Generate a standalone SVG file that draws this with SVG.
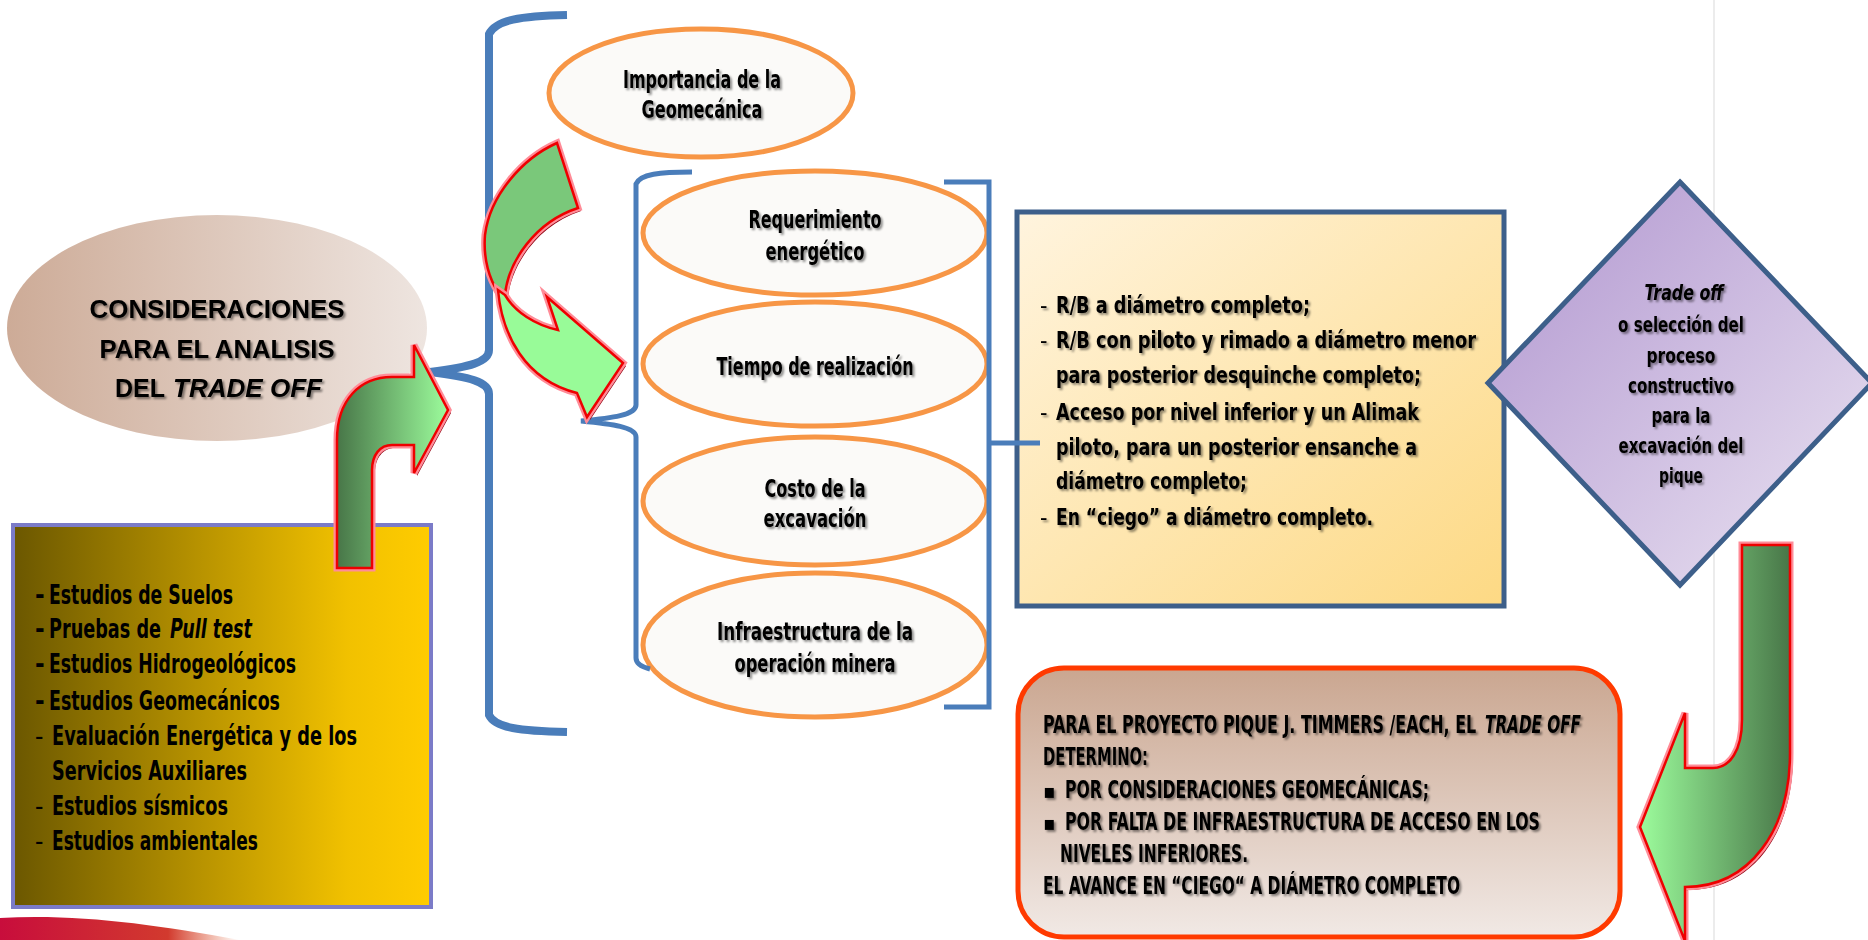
<svg xmlns="http://www.w3.org/2000/svg" width="1868" height="940" viewBox="0 0 1868 940">
<defs>
<style>
.cond{font-family:'DejaVu Sans Condensed','DejaVu Sans','Liberation Sans',sans-serif;font-stretch:condensed;font-weight:bold;fill:#000;}
.main{font-family:'Liberation Sans','Open Sans',sans-serif;font-weight:bold;font-size:26px;fill:#000;}
.ell{fill:#fbfaf8;stroke:#f79646;stroke-width:5;}
.br{fill:none;stroke:#4a7dba;}
.arr{stroke:#ee0000;stroke-width:2.5;stroke-linejoin:miter;}
.glow{fill:none;stroke:#ff8c98;stroke-width:7;stroke-linejoin:miter;}
.sh{fill:#8e0010;}
.sh-txt{filter:url(#ts);}
</style>
<linearGradient id="gMain" x1="0" y1="0" x2="1" y2="0"><stop offset="0" stop-color="#cdab97"/><stop offset="1" stop-color="#eee5e0"/></linearGradient>
<linearGradient id="gLeft" x1="0" y1="0" x2="1" y2="0"><stop offset="0" stop-color="#6b5700"/><stop offset="0.45" stop-color="#b89300"/><stop offset="0.8" stop-color="#f1c100"/><stop offset="1" stop-color="#ffcc00"/></linearGradient>
<linearGradient id="gBox" x1="0" y1="0" x2="1" y2="1"><stop offset="0" stop-color="#fff4de"/><stop offset="1" stop-color="#fdd984"/></linearGradient>
<linearGradient id="gDia" x1="0" y1="0" x2="1" y2="1"><stop offset="0" stop-color="#b095cf"/><stop offset="1" stop-color="#ebe4f2"/></linearGradient>
<linearGradient id="gRes" x1="0" y1="0" x2="0" y2="1"><stop offset="0" stop-color="#caa690"/><stop offset="1" stop-color="#f1e9e5"/></linearGradient>
<linearGradient id="gA1" gradientUnits="userSpaceOnUse" x1="337" y1="0" x2="448" y2="0"><stop offset="0" stop-color="#487648"/><stop offset="1" stop-color="#9cfc9c"/></linearGradient>
<linearGradient id="gA3" gradientUnits="userSpaceOnUse" x1="1640" y1="0" x2="1790" y2="0"><stop offset="0" stop-color="#9cfc9c"/><stop offset="1" stop-color="#487648"/></linearGradient>
<linearGradient id="gSw" x1="0" y1="0" x2="1" y2="0"><stop offset="0" stop-color="#c80d3c"/><stop offset="0.7" stop-color="#d23a2e"/><stop offset="1" stop-color="#e05a2a" stop-opacity="0"/></linearGradient>
<filter id="ts" x="-5%" y="-20%" width="110%" height="160%"><feDropShadow dx="2" dy="2" stdDeviation="1.2" flood-color="#000" flood-opacity="0.45"/></filter>
<path id="pA1" d="M337,568 L337,440 C337,400 360,377 392,377 L414,377 L414,345 L448,410 L414,473 L414,445 L392,445 C380,445 372,455 372,470 L372,568 Z"/>
<path id="pA2u" d="M557,143 C523,158 490,195 485,235 C483,260 490,280 498,292 L505,295 C508,262 535,222 578,208 Z"/>
<path id="pA2l" d="M498,290 C502,335 525,380 577,393 L587,417 L623,363 L547,297 L558,330 C535,325 515,312 505,295 Z"/>
<path id="pA3" d="M1742,545 L1790,545 L1790,753 C1790,830 1750,887 1685,887 L1685,941 L1640,827 L1685,713 L1685,768 L1713,768 C1730,768 1742,750 1742,720 Z"/>
</defs>
<rect x="0" y="0" width="1868" height="940" fill="#ffffff"/>
<line x1="1714" y1="0" x2="1714" y2="940" stroke="#e6e6e6" stroke-width="1.5"/>
<path d="M0,918 C80,914 150,924 240,940 L0,940 Z" fill="url(#gSw)"/>

<g id="node-consideraciones">
<ellipse cx="217" cy="328" rx="210" ry="113" fill="url(#gMain)"/>
<g class="sh-txt">
<text class="main" x="217" y="318" text-anchor="middle" textLength="255" lengthAdjust="spacingAndGlyphs">CONSIDERACIONES</text>
<text class="main" x="217" y="358" text-anchor="middle" textLength="235" lengthAdjust="spacingAndGlyphs">PARA EL ANALISIS</text>
<text class="main" x="115" y="397" textLength="50" lengthAdjust="spacingAndGlyphs">DEL</text>
<text class="main" x="173" y="397" font-style="italic" textLength="149" lengthAdjust="spacingAndGlyphs">TRADE OFF</text>
</g>
</g>

<g id="node-estudios">
<rect x="13" y="525" width="418" height="382" fill="url(#gLeft)" stroke="#7b7bc8" stroke-width="4"/>
<g class="cond" font-size="26">
<text x="35" y="604">-</text><text x="49" y="604" textLength="184" lengthAdjust="spacingAndGlyphs">Estudios de Suelos</text>
<text x="35" y="638">-</text><text transform="translate(49,638) scale(0.7,1)" x="0" y="0" textLength="160" lengthAdjust="spacingAndGlyphs">Pruebas de</text><text transform="translate(170,638) scale(0.7,1)" x="0" y="0" font-style="italic" textLength="117" lengthAdjust="spacingAndGlyphs">Pull test</text>
<text x="35" y="673">-</text><text x="49" y="673" textLength="247" lengthAdjust="spacingAndGlyphs">Estudios Hidrogeológicos</text>
<text x="35" y="710">-</text><text x="49" y="710" textLength="231" lengthAdjust="spacingAndGlyphs">Estudios Geomecánicos</text>
<text x="35" y="745" font-weight="normal">-</text><text x="52" y="745" textLength="305" lengthAdjust="spacingAndGlyphs">Evaluación Energética y  de los</text>
<text x="52" y="780" textLength="195" lengthAdjust="spacingAndGlyphs">Servicios Auxiliares</text>
<text x="35" y="815" font-weight="normal">-</text><text x="52" y="815" textLength="176" lengthAdjust="spacingAndGlyphs">Estudios sísmicos</text>
<text x="35" y="850" font-weight="normal">-</text><text x="52" y="850" textLength="206" lengthAdjust="spacingAndGlyphs">Estudios ambientales</text>
</g>
</g>

<g id="node-geomecanica">
<ellipse class="ell" cx="701" cy="93" rx="152" ry="64"/>
<g class="cond sh-txt" font-size="25" text-anchor="middle">
<text x="702" y="88" textLength="158" lengthAdjust="spacingAndGlyphs">Importancia de la</text>
<text x="702" y="118" textLength="121" lengthAdjust="spacingAndGlyphs">Geomecánica</text>
</g>
</g>

<g id="node-requerimiento">
<ellipse class="ell" cx="815" cy="233" rx="172" ry="62"/>
<g class="cond sh-txt" font-size="25" text-anchor="middle">
<text x="815" y="228" textLength="133" lengthAdjust="spacingAndGlyphs">Requerimiento</text>
<text x="815" y="260" textLength="99" lengthAdjust="spacingAndGlyphs">energético</text>
</g>
</g>

<g id="node-tiempo">
<ellipse class="ell" cx="815" cy="364" rx="172" ry="62"/>
<g class="cond sh-txt" font-size="25" text-anchor="middle">
<text x="815" y="375" textLength="197" lengthAdjust="spacingAndGlyphs">Tiempo de realización</text>
</g>
</g>

<g id="node-costo">
<ellipse class="ell" cx="815" cy="501" rx="172" ry="64"/>
<g class="cond sh-txt" font-size="25" text-anchor="middle">
<text x="815" y="497" textLength="101" lengthAdjust="spacingAndGlyphs">Costo de la</text>
<text x="815" y="527" textLength="103" lengthAdjust="spacingAndGlyphs">excavación</text>
</g>
</g>

<g id="node-infraestructura">
<ellipse class="ell" cx="815" cy="645" rx="172" ry="72"/>
<g class="cond sh-txt" font-size="25" text-anchor="middle">
<text x="815" y="640" textLength="196" lengthAdjust="spacingAndGlyphs">Infraestructura  de la</text>
<text x="815" y="672" textLength="161" lengthAdjust="spacingAndGlyphs">operación minera</text>
</g>
</g>

<g id="node-alternativas">
<rect x="1017" y="212" width="487" height="394" fill="url(#gBox)" stroke="#3d5f8a" stroke-width="5"/>
<g class="cond sh-txt" font-size="23">
<text x="1040" y="313" font-weight="normal">-</text><text x="1056" y="313" textLength="254" lengthAdjust="spacingAndGlyphs">R/B a diámetro completo;</text>
<text x="1040" y="348" font-weight="normal">-</text><text x="1056" y="348" textLength="420" lengthAdjust="spacingAndGlyphs">R/B con piloto y rimado a diámetro menor</text>
<text x="1056" y="383" textLength="365" lengthAdjust="spacingAndGlyphs">para posterior desquinche completo;</text>
<text x="1040" y="420" font-weight="normal">-</text><text x="1056" y="420" textLength="363" lengthAdjust="spacingAndGlyphs">Acceso por nivel inferior y un Alimak</text>
<text x="1056" y="455" textLength="361" lengthAdjust="spacingAndGlyphs">piloto, para un posterior ensanche a</text>
<text x="1056" y="489" textLength="191" lengthAdjust="spacingAndGlyphs">diámetro completo;</text>
<text x="1040" y="525" font-weight="normal">-</text><text x="1056" y="525" textLength="317" lengthAdjust="spacingAndGlyphs">En “ciego” a diámetro completo.</text>
</g>
</g>

<g id="node-tradeoff">
<polygon points="1680,182 1872,383 1680,585 1488,383" fill="url(#gDia)" stroke="#3d5f8a" stroke-width="5" stroke-linejoin="miter"/>
<g class="cond sh-txt" font-size="21" text-anchor="middle">
<text x="1684" y="300" font-style="italic" textLength="79" lengthAdjust="spacingAndGlyphs">Trade off</text>
<text x="1681" y="332" textLength="126" lengthAdjust="spacingAndGlyphs">o selección del</text>
<text x="1681" y="363" textLength="69" lengthAdjust="spacingAndGlyphs">proceso</text>
<text x="1681" y="393" textLength="106" lengthAdjust="spacingAndGlyphs">constructivo</text>
<text x="1681" y="423" textLength="59" lengthAdjust="spacingAndGlyphs">para la</text>
<text x="1681" y="453" textLength="125" lengthAdjust="spacingAndGlyphs">excavación del</text>
<text x="1681" y="483" textLength="44" lengthAdjust="spacingAndGlyphs">pique</text>
</g>
</g>

<g id="node-resultado">
<rect x="1018" y="668" width="602" height="269" rx="46" ry="46" fill="url(#gRes)" stroke="#ff3a00" stroke-width="5"/>
<g class="cond sh-txt" font-size="24">
<text transform="translate(1043,733) scale(0.6,1)" x="0" y="0" textLength="722" lengthAdjust="spacingAndGlyphs">PARA EL PROYECTO PIQUE J. TIMMERS /EACH, EL</text><text transform="translate(1485,733) scale(0.6,1)" x="0" y="0" font-style="italic" textLength="160" lengthAdjust="spacingAndGlyphs">TRADE OFF</text>
<text x="1043" y="765" textLength="105" lengthAdjust="spacingAndGlyphs">DETERMINO:</text>
<text x="1043" y="798" font-size="20">▪</text><text x="1065" y="798" textLength="364" lengthAdjust="spacingAndGlyphs">POR CONSIDERACIONES GEOMECÁNICAS;</text>
<text x="1043" y="830" font-size="20">▪</text><text x="1065" y="830" textLength="475" lengthAdjust="spacingAndGlyphs">POR FALTA DE INFRAESTRUCTURA DE ACCESO EN LOS</text>
<text x="1060" y="862" textLength="188" lengthAdjust="spacingAndGlyphs">NIVELES INFERIORES.</text>
<text x="1043" y="894" textLength="417" lengthAdjust="spacingAndGlyphs">EL AVANCE EN “CIEGO“ A DIÁMETRO COMPLETO</text>
</g>
</g>

<g id="connectors">
<path class="br" stroke-width="8" d="M567,15 C520,16 496,20 489,34 L489,350 C489,362 470,367 430,372 C470,377 489,382 489,394 L489,715 C495,728 520,731 567,732"/>
<path class="br" stroke-width="5" d="M692,172 C660,172 640,174 636,184 L636,405 C636,415 612,418 581,421 C612,424 636,427 636,437 L636,658 C636,664 642,667 650,669"/>
<path class="br" stroke-width="5" d="M944,182 L989,182 L989,707 L944,707 M989,443 L1040,443"/>

<g id="arrow-up-right">
<use href="#pA1" class="sh" transform="translate(3,3)"/>
<use href="#pA1" class="glow"/>
<use href="#pA1" class="arr" fill="url(#gA1)"/>
</g>
<g id="arrow-curved">
<use href="#pA2l" class="sh" transform="translate(3,3)"/>
<use href="#pA2u" class="sh" transform="translate(3,3)"/>
<use href="#pA2u" class="glow"/>
<use href="#pA2u" class="arr" fill="#7ac87a"/>
<use href="#pA2l" class="glow"/>
<use href="#pA2l" class="arr" fill="#98fb98"/>
</g>
<g id="arrow-down-left">
<use href="#pA3" class="sh" transform="translate(3,3)"/>
<use href="#pA3" class="glow"/>
<use href="#pA3" class="arr" fill="url(#gA3)"/>
</g>
</g>
</svg>
